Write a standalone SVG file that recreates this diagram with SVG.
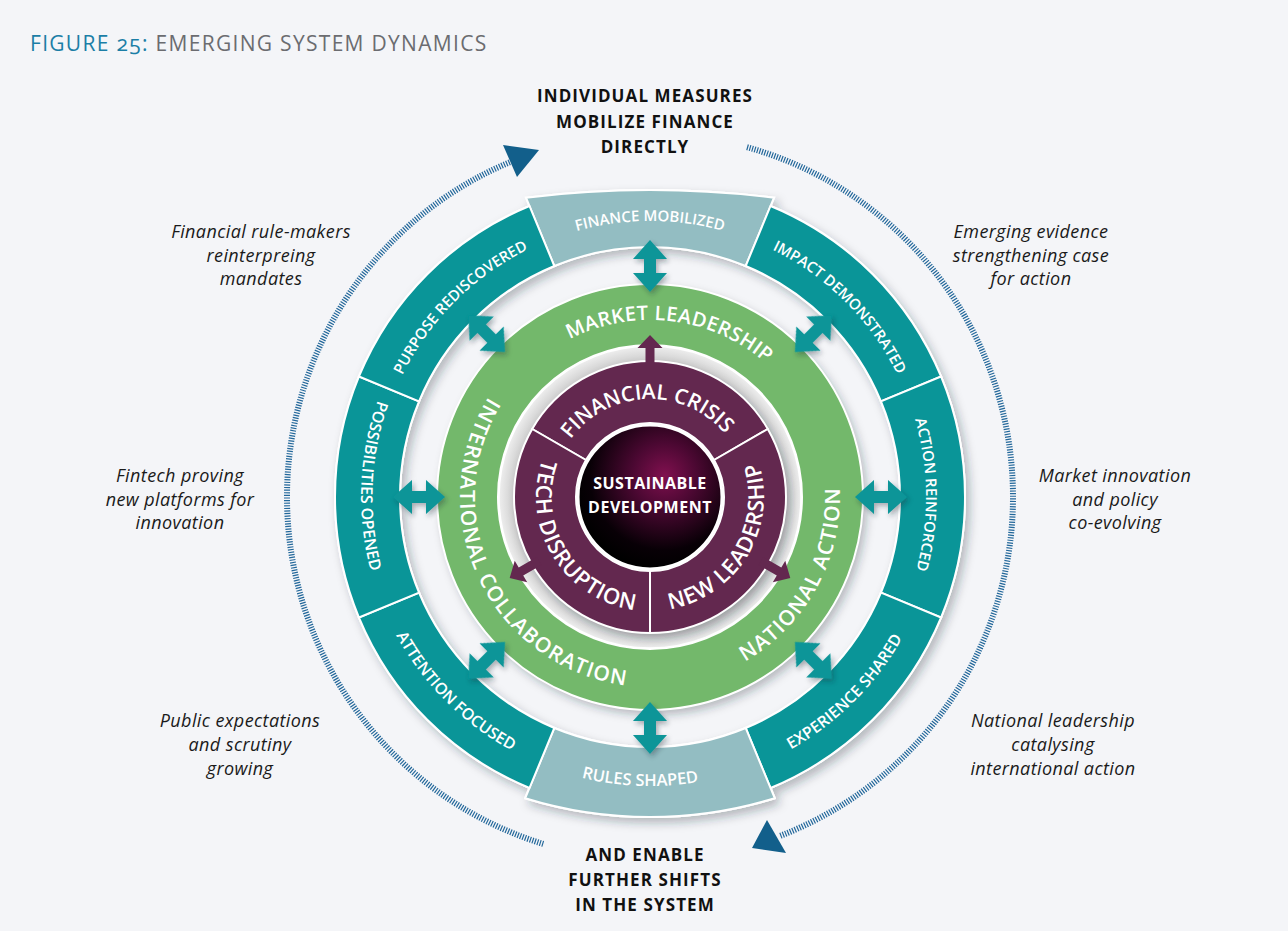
<svg xmlns="http://www.w3.org/2000/svg" xmlns:xlink="http://www.w3.org/1999/xlink" width="1288" height="931" viewBox="0 0 1288 931">
<style>
.ttl{font-family:"Open Sans","Noto Sans",sans-serif;font-size:21px;letter-spacing:1.3px;font-variant-numeric:oldstyle-nums}
.hd{font-family:"Open Sans","Noto Sans",sans-serif;font-weight:700;font-size:17px;letter-spacing:1.1px;fill:#111;text-anchor:middle}
.it{font-family:"Open Sans","Noto Sans",sans-serif;font-style:italic;font-size:18px;letter-spacing:0.4px;fill:#1a1a1a;text-anchor:middle}
.rt{font-family:"Open Sans","Noto Sans",sans-serif;font-weight:600;font-size:15px;fill:#fff;text-anchor:middle}
.rt2{font-family:"Open Sans","Noto Sans",sans-serif;font-weight:600;font-size:16px;fill:#fff;text-anchor:middle}
.gt{font-family:"Open Sans","Noto Sans",sans-serif;font-weight:600;font-size:21px;letter-spacing:1.2px;fill:#fff;text-anchor:middle}
.gt2{font-family:"Open Sans","Noto Sans",sans-serif;font-weight:600;font-size:20px;letter-spacing:0.4px;fill:#fff;text-anchor:middle}
.pt{font-family:"Open Sans","Noto Sans",sans-serif;font-weight:600;font-size:21px;fill:#fff;text-anchor:middle}
.pt2{font-family:"Open Sans","Noto Sans",sans-serif;font-weight:600;font-size:22px;letter-spacing:0.6px;fill:#fff;text-anchor:middle}
.ct{font-family:"Open Sans","Noto Sans",sans-serif;font-weight:700;font-size:16px;letter-spacing:0.5px;fill:#fff;text-anchor:middle}
.teal{fill:#0a9598;stroke:#fff;stroke-width:2;stroke-linejoin:miter}
.lite{fill:#93bdc2;stroke:#fff;stroke-width:2}
.purp{fill:#63284f;stroke:#fff;stroke-width:2}
.hatch{fill:none;stroke:#22679a;stroke-width:6;stroke-dasharray:1.2 1.4}
.ahd{fill:#125f8b}
.darr{fill:#0a9598}
.parr{fill:#63284f}
</style>
<defs>
<filter id="ds" x="-20%" y="-20%" width="140%" height="140%">
<feDropShadow dx="4" dy="5" stdDeviation="5" flood-color="#1c2c34" flood-opacity="0.3"/>
</filter>
<filter id="ds2" x="-40%" y="-40%" width="180%" height="180%">
<feDropShadow dx="2" dy="3" stdDeviation="2.5" flood-color="#1c2c34" flood-opacity="0.35"/>
</filter>
<radialGradient id="sphere" cx="0.6" cy="0.35" r="0.65">
<stop offset="0" stop-color="#80104f"/>
<stop offset="0.35" stop-color="#4b0832"/>
<stop offset="0.8" stop-color="#080006"/>
<stop offset="1" stop-color="#000"/>
</radialGradient>
<radialGradient id="grayr" cx="0.5" cy="0.5" r="0.5">
<stop offset="0.85" stop-color="#bdbdbd"/>
<stop offset="1" stop-color="#eeeeee"/>
</radialGradient>
<path id="cw276" d="M378.19,449.07 A276,276 0 0 1 921.81,449.07"/>
<path id="ccw289" d="M365.39,547.18 A289,289 0 0 0 934.61,547.18"/>
<path id="cw177" d="M475.69,466.26 A177,177 0 0 1 824.31,466.26"/>
<path id="ccw190" d="M462.89,529.99 A190,190 0 0 0 837.11,529.99"/>
<path id="cw98" d="M553.49,479.98 A98,98 0 0 1 746.51,479.98"/>
<path id="ccw114" d="M537.73,516.80 A114,114 0 0 0 762.27,516.80"/>
<path id="dbl" d="M-26,0 L-7,-17 V-6 H7 V-17 L26,0 L7,17 V6 H-7 V17 Z"/>
<path id="sgl" d="M0,-4.5 H21 V-12.5 L34,0 L21,12.5 V4.5 H0 Z"/>
</defs>

<rect x="0" y="0" width="1288" height="931" fill="#f4f5f8"/>

<text class="ttl" x="30" y="51"><tspan fill="#1b7ea6">FIGURE 25:</tspan><tspan fill="#6b6c70"> EMERGING SYSTEM DYNAMICS</tspan></text>

<g id="label-top">
<text class="hd" x="645" y="102">INDIVIDUAL MEASURES</text>
<text class="hd" x="645" y="128">MOBILIZE FINANCE</text>
<text class="hd" x="645" y="153">DIRECTLY</text>
</g>
<g id="label-bottom">
<text class="hd" x="645" y="861">AND ENABLE</text>
<text class="hd" x="645" y="886">FURTHER SHIFTS</text>
<text class="hd" x="645" y="911">IN THE SYSTEM</text>
</g>

<g id="note-rulemakers">
<text class="it" x="261" y="238">Financial rule-makers</text>
<text class="it" x="261" y="262">reinterpreing</text>
<text class="it" x="261" y="285">mandates</text>
</g>
<g id="note-evidence">
<text class="it" x="1031" y="238">Emerging evidence</text>
<text class="it" x="1031" y="262">strengthening case</text>
<text class="it" x="1031" y="285">for action</text>
</g>
<g id="note-fintech">
<text class="it" x="180" y="482">Fintech proving</text>
<text class="it" x="180" y="506">new platforms for</text>
<text class="it" x="180" y="529">innovation</text>
</g>
<g id="note-market">
<text class="it" x="1115" y="482">Market innovation</text>
<text class="it" x="1115" y="506">and policy</text>
<text class="it" x="1115" y="529">co-evolving</text>
</g>
<g id="note-public">
<text class="it" x="240" y="727">Public expectations</text>
<text class="it" x="240" y="751">and scrutiny</text>
<text class="it" x="240" y="775">growing</text>
</g>
<g id="note-national">
<text class="it" x="1053" y="727">National leadership</text>
<text class="it" x="1053" y="751">catalysing</text>
<text class="it" x="1053" y="775">international action</text>
</g>

<g id="shadows" filter="url(#ds)">
<use href="#p-finance"/>
<use href="#p-impact"/>
<use href="#p-action"/>
<use href="#p-experience"/>
<use href="#p-rules"/>
<use href="#p-attention"/>
<use href="#p-possibilities"/>
<use href="#p-purpose"/>
<path fill="#73b86b" fill-rule="evenodd" d="M863,497 A213,213 0 1 0 437,497 A213,213 0 1 0 863,497 Z M802,497 A152,152 0 1 0 498,497 A152,152 0 1 0 802,497 Z"/>
</g>

<g id="seg-finance">
<path id="p-finance" class="lite" d="M554.33,266.03 L526.01,197.66 A1007,1007 0 0 1 773.99,197.66 L745.67,266.03 A250,250 0 0 0 554.33,266.03 Z"/>
<text class="rt"><textPath href="#cw276" startOffset="50%">FINANCE MOBILIZED</textPath></text>
</g>
<g id="seg-impact">
<path id="p-impact" class="teal" d="M770.54,205.98 A315,315 0 0 1 941.02,376.46 L880.97,401.33 A250,250 0 0 0 745.67,266.03 Z"/>
<text class="rt" transform="rotate(45 650 497)"><textPath href="#cw276" startOffset="50%">IMPACT DEMONSTRATED</textPath></text>
</g>
<g id="seg-action">
<path id="p-action" class="teal" d="M941.02,376.46 A315,315 0 0 1 941.02,617.54 L880.97,592.67 A250,250 0 0 0 880.97,401.33 Z"/>
<text class="rt" transform="rotate(89.5 650 497)"><textPath href="#cw276" startOffset="50%">ACTION REINFORCED</textPath></text>
</g>
<g id="seg-experience">
<path id="p-experience" class="teal" d="M941.02,617.54 A315,315 0 0 1 770.54,788.02 L745.67,727.97 A250,250 0 0 0 880.97,592.67 Z"/>
<text class="rt2" transform="rotate(-45 650 497)"><textPath href="#ccw289" startOffset="50%">EXPERIENCE SHARED</textPath></text>
</g>
<g id="seg-rules">
<path id="p-rules" class="lite" d="M745.67,727.97 L774.75,798.18 A423,423 0 0 1 525.25,798.18 L554.33,727.97 A250,250 0 0 0 745.67,727.97 Z"/>
<text class="rt2" style="font-size:16.5px" transform="rotate(2 650 497)"><textPath href="#ccw289" startOffset="50%">RULES SHAPED</textPath></text>
</g>
<g id="seg-attention">
<path id="p-attention" class="teal" d="M529.46,788.02 A315,315 0 0 1 358.98,617.54 L419.03,592.67 A250,250 0 0 0 554.33,727.97 Z"/>
<text class="rt2" transform="rotate(45 650 497)"><textPath href="#ccw289" startOffset="50%">ATTENTION FOCUSED</textPath></text>
</g>
<g id="seg-possibilities">
<path id="p-possibilities" class="teal" d="M358.98,617.54 A315,315 0 0 1 358.98,376.46 L419.03,401.33 A250,250 0 0 0 419.03,592.67 Z"/>
<text class="rt2" transform="rotate(92.3 650 497)"><textPath href="#ccw289" startOffset="50%">POSSIBILITIES OPENED</textPath></text>
</g>
<g id="seg-purpose">
<path id="p-purpose" class="teal" d="M358.98,376.46 A315,315 0 0 1 529.46,205.98 L554.33,266.03 A250,250 0 0 0 419.03,401.33 Z"/>
<text class="rt" transform="rotate(-45 650 497)"><textPath href="#cw276" startOffset="50%">PURPOSE REDISCOVERED</textPath></text>
</g>

<g id="ring-green">
<path fill="#73b86b" stroke="#fff" stroke-width="2" fill-rule="evenodd" d="M863,497 A213,213 0 1 0 437,497 A213,213 0 1 0 863,497 Z M802,497 A152,152 0 1 0 498,497 A152,152 0 1 0 802,497 Z"/>
<text class="gt2" transform="rotate(7 650 497)"><textPath href="#cw177" startOffset="50%">MARKET LEADERSHIP</textPath></text>
<text class="gt" transform="rotate(64.5 650 497)"><textPath href="#ccw190" startOffset="50%">INTERNATIONAL COLLABORATION</textPath></text>
<text class="gt" transform="rotate(-61.5 650 497)"><textPath href="#ccw190" startOffset="50%">NATIONAL ACTION</textPath></text>
</g>

<circle cx="650" cy="497" r="151" fill="url(#grayr)" stroke="#fff" stroke-width="1.5"/>

<g id="ring-purple-shadow" filter="url(#ds)">
<circle cx="650" cy="497" r="136" fill="#63284f"/>
</g>
<g id="seg-financial-crisis">
<path class="purp" d="M532.22,429 A136,136 0 0 1 767.78,429 L714.09,460 A74,74 0 0 0 585.91,460 Z"/>
<text class="pt" transform="rotate(-2 650 497)"><textPath href="#cw98" startOffset="50%">FINANCIAL CRISIS</textPath></text>
</g>
<g id="seg-new-leadership">
<path class="purp" d="M767.78,429 A136,136 0 0 1 650,633 L650,571 A74,74 0 0 0 714.09,460 Z"/>
<text class="pt2" transform="rotate(-59 650 497)"><textPath href="#ccw114" startOffset="50%">NEW LEADERSHIP</textPath></text>
</g>
<g id="seg-tech-disruption">
<path class="purp" d="M650,633 A136,136 0 0 1 532.22,429 L585.91,460 A74,74 0 0 0 650,571 Z"/>
<text class="pt2" transform="rotate(58.5 650 497)"><textPath href="#ccw114" startOffset="50%">TECH DISRUPTION</textPath></text>
</g>

<g id="core">
<circle cx="650" cy="497" r="72" fill="url(#sphere)" stroke="#fff" stroke-width="3"/>
<text class="ct" x="650" y="489">SUSTAINABLE</text>
<text class="ct" x="650" y="513">DEVELOPMENT</text>
</g>

<g id="connectors">
<path class="hatch" d="M543.26,843.95 A363,363 0 0 1 510.50,161.87"/>
<path class="hatch" d="M747.01,147.20 A363,363 0 0 1 779.50,836.11"/>
<polygon class="ahd" points="503,145 539,150 517,177"/>
<polygon class="ahd" points="767,820 786,853 752,848"/>
<g filter="url(#ds2)">
<use href="#dbl" class="darr" transform="translate(650 497) rotate(-90) translate(231 0)"/>
<use href="#dbl" class="darr" transform="translate(650 497) rotate(-45) translate(231 0)"/>
<use href="#dbl" class="darr" transform="translate(650 497) rotate(0) translate(231 0)"/>
<use href="#dbl" class="darr" transform="translate(650 497) rotate(45) translate(231 0)"/>
<use href="#dbl" class="darr" transform="translate(650 497) rotate(90) translate(231 0)"/>
<use href="#dbl" class="darr" transform="translate(650 497) rotate(135) translate(231 0)"/>
<use href="#dbl" class="darr" transform="translate(650 497) rotate(180) translate(231 0)"/>
<use href="#dbl" class="darr" transform="translate(650 497) rotate(-135) translate(231 0)"/>
</g>
<use href="#sgl" class="parr" transform="translate(650 497) rotate(-90) translate(128 0)"/>
<use href="#sgl" class="parr" transform="translate(650 497) rotate(150) translate(128 0)"/>
<use href="#sgl" class="parr" transform="translate(650 497) rotate(30) translate(128 0)"/>
</g>
</svg>
